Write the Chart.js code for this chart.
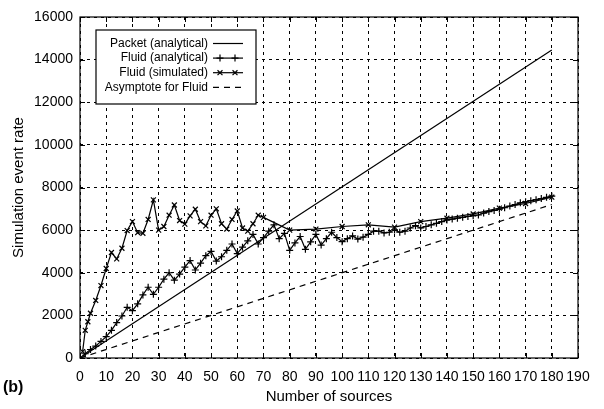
<!DOCTYPE html>
<html>
<head>
<meta charset="utf-8">
<script src="https://cdn.jsdelivr.net/npm/chart.js"></script>
<style>
  html, body { margin: 0; padding: 0; background: #fff; }
  #wrap { width: 604px; height: 409px; }
</style>
</head>
<body>
<div id="wrap"><canvas id="rateChart" width="604" height="409"></canvas></div>
<script>
// event rate vs number of sources
const packetX = [1, 180];
const packetY = [80, 14450];

const fluidAnaX = [0, 2, 4, 6, 8, 10, 12, 14, 16, 18, 20, 22, 24, 26, 28, 30, 32, 34, 36, 38, 40, 42, 44,
  46, 48, 50, 52, 54, 56, 58, 60, 62, 64, 66, 68, 70, 72, 74, 76, 78, 80, 82, 84, 86, 88, 90, 92, 94, 96, 98, 100,
  102, 104, 106, 108, 110, 112, 114, 116, 118, 120, 122, 124, 126, 128, 130, 132, 134, 136, 138, 140,
  142, 144, 146, 148, 150, 152, 154, 156, 158, 160, 162, 164, 166, 168, 170, 172, 174, 176, 178, 180];
const fluidAnaY = [0, 200, 400, 560, 780, 1000, 1300, 1660, 1970, 2380, 2220, 2540, 2960, 3320, 2990, 3320, 3700, 4000, 3650, 3940, 4260, 4570, 4130,
  4450, 4800, 5000, 4550, 4750, 5050, 5350, 4900, 5200, 5500, 5800, 5350, 5650, 5950, 6250, 5600, 5850, 5050, 5400, 5700, 5100, 5450, 5800, 5300, 5600, 5900, 5650, 5460,
  5600, 5730, 5580, 5670, 5800, 5950, 5950, 5870, 5900, 6010, 5900, 5950, 6100, 6210, 6100, 6170, 6250, 6320, 6400, 6480,
  6520, 6560, 6600, 6640, 6680, 6710, 6800, 6870, 6920, 6980, 7050, 7130, 7200, 7280, 7330, 7380, 7430, 7480, 7540, 7600];

const fluidSimX = [1, 2, 3, 4, 6, 8, 10, 12, 14, 16, 18, 20, 22, 24, 26, 28, 30, 32, 34, 36, 38, 40, 42, 44,
  46, 48, 50, 52, 54, 56, 58, 60, 62, 64, 66, 68, 70, 80, 90, 100, 110, 120, 130, 140, 150, 160, 170, 180];
const fluidSimY = [300, 1300, 1700, 2100, 2700, 3400, 4200, 4950, 4650, 5150, 5980, 6400, 5880, 5850, 6500, 7420, 6000, 6170, 6700, 7180, 6450, 6280, 6670, 6980,
  6400, 6200, 6700, 7000, 6300, 6050, 6500, 6900, 6100, 5950, 6300, 6700, 6600, 6000, 6050, 6170, 6250, 6140, 6400, 6560, 6760, 7030, 7250, 7550];

const asymX = [0, 180];
const asymY = [0, 7200];

const xTicks = [0, 10, 20, 30, 40, 50, 60, 70, 80, 90, 100, 110, 120, 130, 140, 150, 160, 170, 180, 190];
const yTicks = [0, 2000, 4000, 6000, 8000, 10000, 12000, 14000, 16000];

const legendNames = ['Packet (analytical)', 'Fluid (analytical)', 'Fluid (simulated)', 'Asymptote for Fluid'];

const pts = (xs, ys) => xs.map((x, i) => ({ x, y: ys[i] }));
const FONT = 'Liberation Sans, Arial, Helvetica, sans-serif';

const datasets = [
  { label: legendNames[0], data: pts(packetX, packetY), borderColor: '#000', borderWidth: 1.2, pointRadius: 0 },
  { label: legendNames[1], data: pts(fluidAnaX, fluidAnaY), borderColor: '#000', borderWidth: 1.2,
    pointStyle: 'cross', pointRadius: 3.5, pointBorderWidth: 1.2, pointBorderColor: '#000' },
  { label: legendNames[2], data: pts(fluidSimX, fluidSimY), borderColor: '#000', borderWidth: 1.2,
    pointStyle: 'crossRot', pointRadius: 3.5, pointBorderWidth: 1.2, pointBorderColor: '#000' },
  { label: legendNames[3], data: pts(asymX, asymY), borderColor: '#000', borderWidth: 1.2, borderDash: [6, 5], pointRadius: 0 }
];

// frame with inward ticks, gnuplot-style legend and panel tag
const decorations = {
  id: 'decorations',
  afterDraw(chart) {
    const { ctx, chartArea: a, scales } = chart;
    ctx.save();
    ctx.strokeStyle = '#000';
    ctx.lineWidth = 1.2;
    ctx.setLineDash([]);
    ctx.strokeRect(a.left, a.top, a.right - a.left, a.bottom - a.top);

    ctx.lineWidth = 1;
    ctx.beginPath();
    xTicks.forEach(v => {
      const px = Math.round(scales.x.getPixelForValue(v)) + 0.5;
      ctx.moveTo(px, a.bottom); ctx.lineTo(px, a.bottom - 5);
      ctx.moveTo(px, a.top); ctx.lineTo(px, a.top + 5);
    });
    yTicks.forEach(v => {
      const py = Math.round(scales.y.getPixelForValue(v)) + 0.5;
      ctx.moveTo(a.left, py); ctx.lineTo(a.left + 5, py);
      ctx.moveTo(a.right, py); ctx.lineTo(a.right - 5, py);
    });
    ctx.stroke();

    // legend box
    const bx = 96, by = 30, bw = 160, bh = 74;
    ctx.fillStyle = '#fff';
    ctx.fillRect(bx, by, bw, bh);
    ctx.lineWidth = 1.2;
    ctx.strokeRect(bx, by, bw, bh);
    ctx.font = '12px ' + FONT;
    ctx.textAlign = 'right';
    ctx.textBaseline = 'middle';
    chart.data.datasets.forEach((ds, i) => {
      const y = by + 13.5 + i * 14.6;
      ctx.fillStyle = '#000';
      ctx.fillText(ds.label, bx + 112, y);
      ctx.beginPath();
      ctx.setLineDash(ds.borderDash || []);
      ctx.lineWidth = 1.2;
      ctx.moveTo(bx + 117, y);
      ctx.lineTo(bx + 147, y);
      ctx.stroke();
      ctx.setLineDash([]);
      if (ds.pointStyle) {
        [bx + 124, bx + 139].forEach(px => {
          Chart.helpers.drawPoint(ctx, { pointStyle: ds.pointStyle, radius: 3.5, borderWidth: 1.2 }, px, y);
        });
      }
    });

    ctx.font = 'bold 16px ' + FONT;
    ctx.textAlign = 'left';
    ctx.fillStyle = '#000';
    ctx.fillText('(b)', 3, 388);
    ctx.restore();
  }
};

new Chart(document.getElementById('rateChart'), {
  type: 'line',
  data: { datasets },
  options: {
    responsive: false,
    animation: false,
    layout: { padding: { top: 17, right: 26, left: 0, bottom: 0 } },
    plugins: { legend: { display: false }, tooltip: { enabled: false } },
    scales: {
      x: {
        type: 'linear', min: 0, max: 190,
        afterBuildTicks: s => { s.ticks = xTicks.map(v => ({ value: v })); },
        afterFit: s => { s.height = 51; },
        grid: { color: '#000', lineWidth: 1, drawTicks: false },
        border: { display: false, dash: [3, 4] },
        ticks: { color: '#000', padding: 11, font: { family: FONT, size: 14 }, maxRotation: 0, autoSkip: false,
          callback: v => String(v) },
        title: { display: true, text: 'Number of sources', color: '#000', font: { family: FONT, size: 15 }, padding: { top: 0, bottom: 3 } }
      },
      y: {
        min: 0, max: 16000,
        afterBuildTicks: s => { s.ticks = yTicks.map(v => ({ value: v })); },
        afterFit: s => { s.width = 80; },
        grid: { color: '#000', lineWidth: 1, drawTicks: false },
        border: { display: false, dash: [3, 4] },
        ticks: { color: '#000', padding: 7, font: { family: FONT, size: 14 }, callback: v => String(v) },
        title: { display: true, text: 'Simulation event rate', color: '#000', font: { family: FONT, size: 15 }, padding: { top: 10, bottom: 6 } }
      }
    }
  },
  plugins: [decorations]
});
</script>
</body>
</html>
